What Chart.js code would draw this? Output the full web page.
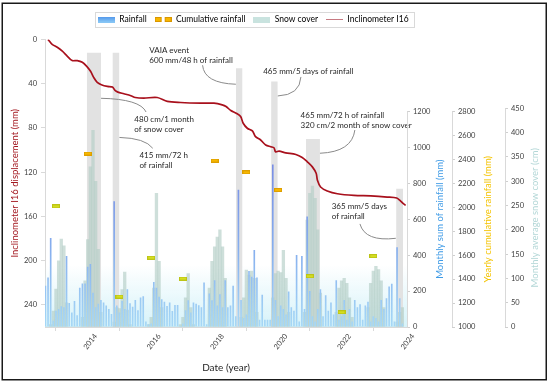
<!DOCTYPE html>
<html>
<head>
<meta charset="utf-8">
<script src="https://cdn.jsdelivr.net/npm/chart.js@4.4.1/dist/chart.umd.min.js"></script>
<style>
  html, body { margin: 0; padding: 0; background: #fff; }
</style>
</head>
<body>
<canvas id="chart" width="550" height="385"></canvas>
<script>
const FONT = 'Lato, sans-serif';
const INK = '#404040';

// monthly series, Sep 2012 .. Dec 2023 (one value per month)
const firstYear = 2012;
const firstMonth = 9;
const rainfall = [
  230, 275, 495, 35,
  90, 100, 115, 110, 395, 133, 80, 144, 66, 219, 242, 242,
  335, 350, 190, 110, 130, 150, 136, 120, 100, 72, 700, 120,
  80, 145, 100, 210, 132, 113, 150, 93, 164, 171, 30, 15,
  20, 251, 219, 169, 154, 141, 117, 136, 89, 123, 123, 5,
  20, 93, 149, 80, 136, 130, 121, 110, 247, 15, 186, 149,
  260, 120, 182, 110, 260, 110, 120, 229, 60, 763, 150, 50,
  70, 312, 279, 428, 275, 40, 179, 40, 40, 40, 904, 150,
  60, 120, 100, 70, 197, 110, 90, 400, 30, 395, 100, 615,
  200, 60, 30, 100, 210, 60, 176, 90, 136, 70, 260, 40,
  60, 150, 40, 100, 30, 150, 110, 127, 40, 120, 141, 30,
  60, 50, 30, 150, 100, 160, 225, 240, 30, 444, 160, 20
];
const snowCover = [
  0, 0, 5, 33,
  78, 136, 181, 167, 50, 0, 0, 0, 0, 0, 20, 95,
  180, 330, 405, 300, 160, 30, 0, 0, 0, 0, 10, 40,
  38, 77, 113, 35, 5, 0, 0, 0, 0, 0, 0, 5,
  20, 80, 275, 135, 40, 0, 0, 0, 0, 0, 0, 5,
  20, 60, 110, 40, 5, 0, 0, 0, 0, 0, 80, 135,
  165, 185, 200, 165, 100, 0, 0, 0, 0, 0, 20, 60,
  117, 107, 115, 100, 30, 0, 0, 0, 0, 0, 60, 110,
  115, 112, 158, 100, 30, 0, 0, 0, 0, 0, 30, 220,
  275, 290, 265, 200, 70, 0, 0, 0, 0, 0, 30, 80,
  95, 100, 90, 60, 20, 0, 0, 0, 0, 0, 40, 90,
  115, 125, 118, 95, 40, 0, 0, 0, 0, 10, 30, 40
];

// yearly cumulative rainfall, shown on 1 January
const cumYears = [2013, 2014, 2015, 2016, 2017, 2018, 2019, 2020, 2021, 2022, 2023];
const cumRainfall = [2007, 2448, 1254, 1578, 1404, 2389, 2291, 2144, 1424, 1123, 1592];

// inclinometer I16 cumulative displacement
const incDate = [
  2012.75, 2012.88, 2013.04, 2013.2, 2013.36, 2013.51, 2013.67, 2013.83, 2013.97, 2014.09,
  2014.2, 2014.3, 2014.43, 2014.62, 2014.78, 2014.86, 2014.95, 2015.14, 2015.36, 2015.5,
  2015.77, 2016.19, 2016.51, 2016.93, 2017.56, 2017.98, 2018.24, 2018.36, 2018.51, 2018.68,
  2018.82, 2018.9, 2019.03, 2019.19, 2019.29, 2019.45, 2019.61, 2019.77, 2019.87, 2019.92,
  2020.03, 2020.24, 2020.56, 2020.76, 2020.92, 2021.08, 2021.2, 2021.24, 2021.34, 2021.55,
  2021.87, 2022.39, 2022.92, 2023.44, 2023.74, 2023.84, 2023.95, 2024.02
];
const incDisp = [
  0, 4.5, 7, 10.6, 15.2, 19.1, 19.1, 20.6, 24.3, 28.8,
  34.9, 38.8, 40.9, 42.5, 43.1, 46.1, 47.6, 49.1, 50.9, 52.5,
  53, 52.5, 56, 57, 57.6, 57.6, 59.1, 60.6, 64.3, 66.7,
  69.7, 75.8, 80.3, 82.7, 87.9, 90.9, 95.5, 97, 97.9, 101.5,
  101, 102.5, 104, 106.7, 110.6, 115.2, 121, 127.3, 133.4, 137,
  139.5, 141, 141.5, 142.5, 143.4, 145.5, 148.5, 150
];

// highlighted events (grey columns), x in years, top in mm of the left axis
const eventStart = [2013.97, 2014.78, 2018.67, 2019.78, 2020.88, 2023.72];
const eventEnd = [2014.42, 2015.0, 2018.88, 2019.99, 2021.32, 2023.94];
const eventTop = [12, 12, 26, 38, 90, 135];

// tick labels
const yearTicks = [2014, 2016, 2018, 2020, 2022, 2024];
const dispTicks = [0, 40, 80, 120, 160, 200, 240];
const rainTicks = [0, 200, 400, 600, 800, 1000, 1200];
const cumTicks = [1000, 1200, 1400, 1600, 1800, 2000, 2200, 2400, 2600, 2800];
const snowTicks = [0, 50, 100, 150, 200, 250, 300, 350, 400, 450];

// callouts: text anchor and leader curve (start, control, end) in [year, mm]
const notes = [
  { lines: ['VAIA event', '600 mm/48 h of rainfall'], at: [2015.94, 9.6],
    leader: [[2017.62, 23.3], [2017.67, 39.6], [2018.67, 40.5]] },
  { lines: ['480 cm/1 month', 'of snow cover'], at: [2015.47, 72.3],
    leader: [[2014.42, 53.2], [2015.65, 53.9], [2015.84, 65.6]] },
  { lines: ['415 mm/72 h', 'of rainfall'], at: [2015.63, 105],
    leader: [[2015.0, 88.6], [2015.81, 89.2], [2016.05, 98.4]] },
  { lines: ['465 mm/5 days of rainfall'], at: [2019.53, 28.5],
    leader: [[2019.99, 51.1], [2020.69, 50.3], [2020.72, 33.9]] },
  { lines: ['465 mm/72 h of rainfall', '320 cm/2 month of snow cover'], at: [2020.71, 68.5],
    leader: [[2021.32, 102.9], [2022.33, 101.7], [2022.42, 81.9]] },
  { lines: ['365 mm/5 days', 'of rainfall'], at: [2021.69, 151],
    leader: [[2022.58, 166.8], [2022.74, 183.1], [2023.71, 179.8]] }
];

const monthX = rainfall.map((v, i) => firstYear + (firstMonth - 1 + i) / 12);

const eventPoints = [];
eventStart.forEach((s, i) => {
  eventPoints.push({ x: s, y: eventTop[i] }, { x: eventEnd[i], y: eventTop[i] }, { x: eventEnd[i] + 0.01, y: null });
});

function swatch(w, h, paint) {
  const c = document.createElement('canvas');
  c.width = w;
  c.height = h;
  paint(c.getContext('2d'), w, h);
  return c;
}
function dash(fill, edge) {
  return swatch(8, 4, (g) => {
    g.fillStyle = fill; g.fillRect(0, 0, 8, 4);
    g.strokeStyle = edge; g.lineWidth = 1; g.strokeRect(0.5, 0.5, 7, 3);
  });
}
const dashHigh = dash('#f7b800', '#dd9e00');
const dashLow = dash('#d4de22', '#bcc416');

const legendRain = swatch(17, 6, (g, w, h) => {
  const gr = g.createLinearGradient(0, 0, 0, h);
  gr.addColorStop(0, '#4f94ea'); gr.addColorStop(1, '#8ccaf6');
  g.fillStyle = gr; g.fillRect(0, 0, w, h);
});
const legendCum = swatch(17, 5, (g) => {
  g.fillStyle = '#f7b600';
  g.fillRect(0, 0.5, 7, 4); g.fillRect(10, 0.5, 7, 4);
  g.strokeStyle = '#d99600'; g.lineWidth = 1;
  g.strokeRect(0.5, 0.5, 6, 4); g.strokeRect(10.5, 0.5, 6, 4);
});
const legendSnow = swatch(17, 6, (g, w, h) => { g.fillStyle = '#c9e3df'; g.fillRect(0, 0, w, h); });
const legendLine = swatch(17, 3, (g, w) => { g.fillStyle = '#c77a82'; g.fillRect(0, 1, w, 1); });

let rainGrad = null;
function rainFill(ctx) {
  const a = ctx.chart.chartArea;
  if (!a) return '#7f94e4';
  if (!rainGrad) {
    rainGrad = ctx.chart.ctx.createLinearGradient(0, a.bottom, 0, a.top + 60);
    rainGrad.addColorStop(0, '#a6d8f6');
    rainGrad.addColorStop(0.35, '#86aeee');
    rainGrad.addColorStop(1, '#6f74dc');
  }
  return rainGrad;
}

const sideAxes = [
  { id: 'yRain', text: 'Monthly sum of rainfall (mm)', color: '#3f9be6', dx: 33, lo: 0, hi: 1200 },
  { id: 'yCum', text: 'Yearly cumulative rainfall (mm)', color: '#f4c300', dx: 36, lo: 1000, hi: 2800 },
  { id: 'ySnow', text: 'Monthly average snow cover (cm)', color: '#b3d7d7', dx: 30, lo: 0, hi: 450 }
];

const decor = {
  id: 'decor',
  afterLayout(chart) {
    const lg = chart.legend;
    const pad = lg.options.labels.padding;
    const start = (lg.left + pad + lg.right - lg.lineWidths[0]) / 2;
    const dx = 98 - start;
    lg.left += dx;
    lg.right += dx;
  },
  beforeDatasetsDraw(chart) {
    const { ctx, chartArea: a } = chart;
    const g = ctx.createLinearGradient(0, a.bottom - 62, 0, a.bottom);
    g.addColorStop(0, 'rgba(212,242,249,0)');
    g.addColorStop(1, 'rgba(212,242,249,0.95)');
    ctx.save();
    ctx.fillStyle = g;
    ctx.fillRect(a.left, a.bottom - 62, a.right - a.left, 62);
    ctx.restore();
  },
  afterDatasetsDraw(chart) {
    const { ctx } = chart;
    const xs = chart.scales.x, ys = chart.scales.y;
    const P = (p) => [xs.getPixelForValue(p[0]), ys.getPixelForValue(p[1])];
    ctx.save();
    notes.forEach((n) => {
      const [a, b, c] = n.leader.map(P);
      ctx.beginPath();
      ctx.moveTo(a[0], a[1]);
      ctx.quadraticCurveTo(b[0], b[1], c[0], c[1]);
      ctx.strokeStyle = '#8a8a8a';
      ctx.lineWidth = 1;
      ctx.stroke();
      const t = P(n.at);
      ctx.fillStyle = '#262626';
      ctx.font = '8px ' + FONT;
      ctx.textAlign = 'left';
      ctx.textBaseline = 'middle';
      n.lines.forEach((s, i) => ctx.fillText(s, t[0], t[1] + i * 10));
    });
    ctx.restore();
  },
  afterDraw(chart) {
    const { ctx } = chart;
    ctx.save();
    sideAxes.forEach((s) => {
      const sc = chart.scales[s.id];
      const y0 = sc.getPixelForValue(s.lo), y1 = sc.getPixelForValue(s.hi);
      ctx.strokeStyle = '#d9d9d9';
      ctx.lineWidth = 1;
      ctx.beginPath();
      ctx.moveTo(sc.left + 0.5, y0);
      ctx.lineTo(sc.left + 0.5, y1);
      ctx.stroke();
      ctx.save();
      ctx.translate(sc.left + s.dx, (y0 + y1) / 2);
      ctx.rotate(-Math.PI / 2);
      ctx.font = '9.5px ' + FONT;
      ctx.fillStyle = s.color;
      ctx.textAlign = 'center';
      ctx.textBaseline = 'middle';
      ctx.fillText(s.text, 0, 0);
      ctx.restore();
    });
    const hb = chart.legend.legendHitBoxes;
    const last = hb[hb.length - 1];
    ctx.strokeStyle = '#d9d9d9';
    ctx.lineWidth = 1;
    ctx.strokeRect(Math.round(hb[0].left - 3.5) + 0.5, Math.round(hb[0].top - 3) + 0.5,
      Math.round(last.left + last.width + 5 - hb[0].left + 3.5), Math.round(hb[0].height + 6));
    ctx.strokeStyle = '#1a1a1a';
    ctx.lineWidth = 1.5;
    ctx.strokeRect(2.25, 3.25, 544, 376.5);
    ctx.restore();
  }
};

const tickFont = { family: FONT, size: 7.5 };
function sideScale(ticks, min, max, width) {
  return {
    position: 'right', min, max,
    border: { display: false },
    grid: { drawOnChartArea: false, drawTicks: true, tickLength: 3, color: '#cfcfcf' },
    ticks: { color: INK, font: tickFont, padding: 3, callback: (v) => String(v) },
    afterBuildTicks: (s) => { s.ticks = ticks.map((v) => ({ value: v })); },
    afterFit: (s) => { s.width = width; }
  };
}

new Chart(document.getElementById('chart'), {
  data: {
    datasets: [
      {
        type: 'line', label: 'Inclinometer I16', yAxisID: 'y', order: 0,
        data: incDate.map((d, i) => ({ x: d, y: incDisp[i] })),
        borderColor: '#a8101c', borderWidth: 1.7, pointRadius: 0, tension: 0.3, fill: false
      },
      {
        type: 'line', label: 'Cumulative rainfall', yAxisID: 'yCum', order: 1, showLine: false,
        data: cumYears.map((y, i) => ({ x: y, y: cumRainfall[i] })),
        pointStyle: (c) => (c.raw && c.raw.y > 2100 ? dashHigh : dashLow), pointRadius: 4
      },
      {
        type: 'bar', label: 'Rainfall', yAxisID: 'yRain', order: 2, grouped: false,
        data: monthX.map((x, i) => ({ x, y: rainfall[i] })),
        backgroundColor: rainFill, barPercentage: 0.62, categoryPercentage: 1
      },
      {
        type: 'bar', label: 'Snow cover', yAxisID: 'ySnow', order: 3, grouped: false,
        data: monthX.map((x, i) => ({ x, y: snowCover[i] })),
        backgroundColor: 'rgba(180,206,199,0.66)', barPercentage: 1, categoryPercentage: 1
      },
      {
        type: 'line', label: 'events', yAxisID: 'y', order: 4,
        data: eventPoints, borderWidth: 0, pointRadius: 0, spanGaps: false,
        fill: 'start', backgroundColor: '#e2e2e2', borderColor: 'rgba(0,0,0,0)'
      }
    ]
  },
  options: {
    responsive: false,
    devicePixelRatio: 1,
    animation: false,
    layout: { padding: { left: 5, right: 5, top: 7.25, bottom: 8 } },
    plugins: {
      tooltip: { enabled: false },
      title: { display: true, text: '', weight: 500, padding: { top: 0, bottom: 4.5 }, font: { size: 1 } },
      legend: {
        position: 'top',
        labels: {
          usePointStyle: true, pointStyleWidth: 17, boxHeight: 7, padding: 8,
          color: INK, font: { family: FONT, size: 8.5 },
          generateLabels: () => [
            { text: 'Rainfall', pointStyle: legendRain, hidden: false, lineWidth: 0 },
            { text: 'Cumulative rainfall', pointStyle: legendCum, hidden: false, lineWidth: 0 },
            { text: 'Snow cover', pointStyle: legendSnow, hidden: false, lineWidth: 0 },
            { text: 'Inclinometer I16', pointStyle: legendLine, hidden: false, lineWidth: 0 }
          ]
        }
      }
    },
    scales: {
      x: {
        type: 'linear', min: 2012.654, max: 2024.063, offset: false,
        border: { color: '#d9d9d9' },
        grid: { drawOnChartArea: false, tickLength: 4, color: '#d9d9d9' },
        ticks: { color: INK, font: tickFont, autoSkip: false, minRotation: 52, maxRotation: 52, padding: 1,
          labelOffset: 8, callback: (v) => String(v) },
        afterBuildTicks: (s) => { s.ticks = yearTicks.map((v) => ({ value: v })); },
        afterFit: (s) => { s.height = 50; },
        title: { display: true, text: 'Date (year)', color: '#262626', font: { family: FONT, size: 10 },
          padding: { top: 0, bottom: 3 } }
      },
      y: {
        position: 'left', reverse: true, min: 0, max: 260,
        border: { color: '#d9d9d9' },
        grid: { drawOnChartArea: false, tickLength: 4, color: '#d9d9d9' },
        ticks: { color: INK, font: tickFont, padding: 4 },
        afterBuildTicks: (s) => { s.ticks = dispTicks.map((v) => ({ value: v })); },
        afterFit: (s) => { s.width = 40; },
        title: { display: true, text: 'Inclinometer I16 displacement (mm)', color: '#a3171f',
          font: { family: FONT, size: 9.5 }, padding: { top: 4, bottom: 0 } }
      },
      yRain: sideScale(rainTicks, 0, 1600, 45),
      yCum: sideScale(cumTicks, 1000, 3400, 53),
      ySnow: sideScale(snowTicks, 0, 592, 40)
    }
  },
  plugins: [decor]
});
</script>
</body>
</html>
